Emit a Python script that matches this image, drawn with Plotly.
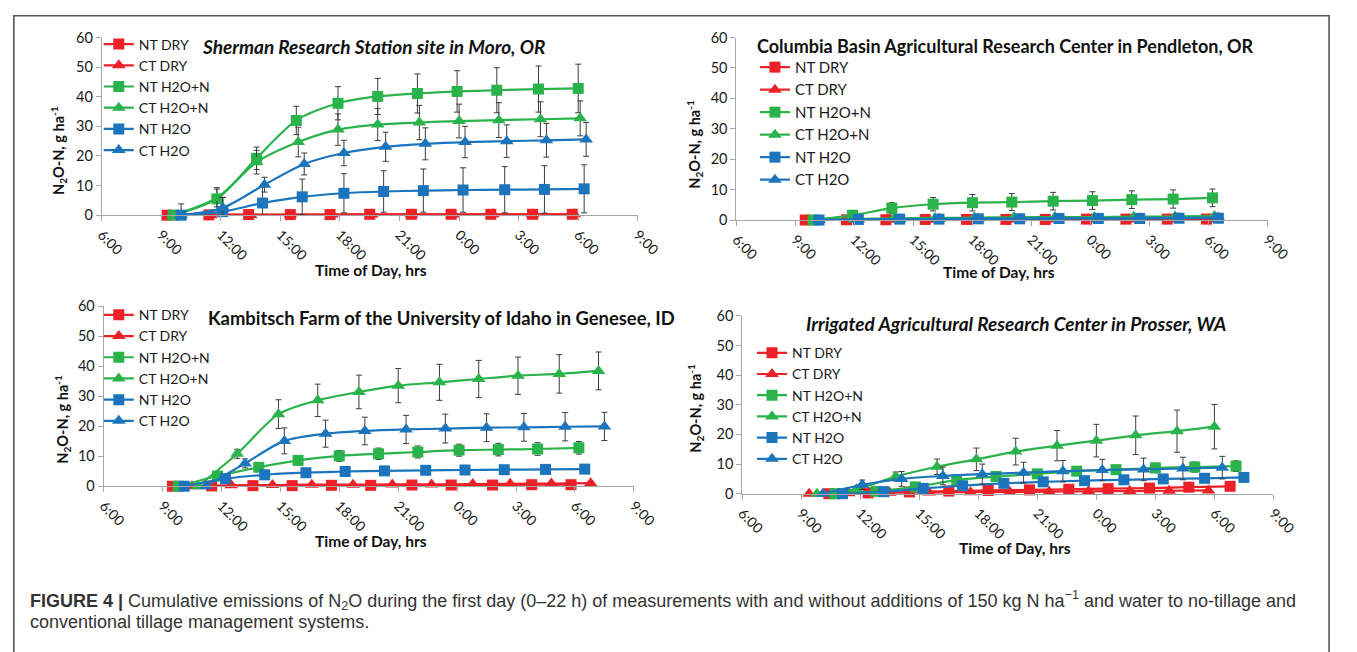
import plotly.graph_objects as go

W, H = 1357, 652

# ---------------- data ----------------
SERIES = ["NT DRY", "CT DRY", "NT H2O+N", "CT H2O+N", "NT H2O", "CT H2O"]

TICK_HOURS = [6, 9, 12, 15, 18, 21, 24, 27, 30, 33]
TICK_LABELS = ["6:00", "9:00", "12:00", "15:00", "18:00", "21:00", "0:00", "3:00", "6:00", "9:00"]
Y_TICKS = [0, 10, 20, 30, 40, 50, 60]

# Sherman Research Station site in Moro, OR  (hours since 0:00 of day 1)
MORO_T_NT_DRY = [9.3, 11.4, 13.4, 15.5, 17.5, 19.5, 21.6, 23.6, 25.6, 27.7, 29.7]
MORO_NT_DRY = [0, 0.1, 0.2, 0.2, 0.2, 0.3, 0.3, 0.3, 0.3, 0.3, 0.3]
MORO_T_CT_DRY = [9.4, 11.5, 13.5, 15.5, 17.6, 19.6, 21.6, 23.7, 25.7, 27.7, 29.8]
MORO_CT_DRY = [0, 0.1, 0.1, 0.2, 0.2, 0.2, 0.2, 0.2, 0.3, 0.3, 0.3]
MORO_T_NT_H2ON = [9.6, 11.8, 13.8, 15.8, 17.9, 19.9, 21.9, 23.9, 25.9, 28.0, 30.0]
MORO_NT_H2ON = [0, 5.5, 19.2, 32.0, 37.8, 40.1, 41.1, 41.8, 42.2, 42.6, 42.8]
MORO_NT_H2ON_ERR = [0, 3.8, 3.8, 4.8, 5.6, 6.1, 6.6, 7.0, 7.6, 7.8, 8.2]
MORO_T_CT_H2ON = [9.6, 11.8, 13.8, 15.9, 17.9, 19.9, 22.0, 24.0, 26.0, 28.1, 30.1]
MORO_CT_H2ON = [0, 5.8, 17.9, 24.7, 28.9, 30.6, 31.3, 31.8, 32.1, 32.4, 32.7]
MORO_CT_H2ON_ERR = [0, 3.0, 4.0, 5.0, 5.3, 5.4, 5.8, 5.7, 5.9, 5.9, 5.9]
MORO_T_NT_H2O = [10.0, 12.1, 14.1, 16.1, 18.2, 20.2, 22.2, 24.2, 26.3, 28.3, 30.3]
MORO_NT_H2O = [0, 1.2, 4.1, 6.2, 7.4, 8.0, 8.3, 8.5, 8.6, 8.7, 8.9]
MORO_NT_H2O_ERR = [3.8, 4.8, 5.5, 6.0, 6.6, 7.0, 7.3, 7.5, 7.8, 8.0, 8.1]
MORO_T_CT_H2O = [10.0, 12.1, 14.2, 16.2, 18.2, 20.3, 22.3, 24.3, 26.4, 28.4, 30.4]
MORO_CT_H2O = [0, 2.5, 10.3, 17.3, 21.0, 23.1, 24.1, 24.7, 25.0, 25.3, 25.6]
MORO_CT_H2O_ERR = [0, 3.5, 2.5, 3.7, 4.3, 4.9, 5.4, 5.3, 5.5, 5.7, 5.7]

# Columbia Basin Agricultural Research Center in Pendleton, OR
PEND_T_NT_DRY = [9.5, 11.6, 13.6, 15.6, 17.7, 19.7, 21.7, 23.8, 25.8, 27.9, 29.9]
PEND_NT_DRY = [0, 0.1, 0.1, 0.2, 0.2, 0.2, 0.2, 0.3, 0.3, 0.3, 0.3]
PEND_T_CT_DRY = [9.6, 11.7, 13.7, 15.7, 17.8, 19.8, 21.8, 23.9, 25.9, 28.0, 30.0]
PEND_CT_DRY = [0, 0.1, 0.1, 0.1, 0.2, 0.2, 0.2, 0.2, 0.2, 0.3, 0.3]
PEND_T_NT_H2ON = [9.9, 11.9, 13.9, 16.0, 18.0, 20.0, 22.1, 24.1, 26.1, 28.2, 30.2]
PEND_NT_H2ON = [0, 1.6, 3.9, 5.2, 5.7, 5.9, 6.2, 6.4, 6.7, 6.9, 7.3]
PEND_NT_H2ON_ERR = [0, 0.5, 1.8, 2.2, 2.7, 2.8, 2.9, 2.9, 2.9, 3.0, 2.9]
PEND_T_CT_H2ON = [10.0, 12.0, 14.0, 16.1, 18.1, 20.1, 22.2, 24.2, 26.2, 28.3, 30.3]
PEND_CT_H2ON = [0, 0.3, 0.6, 0.7, 0.8, 0.9, 1.0, 1.0, 1.1, 1.2, 1.3]
PEND_T_NT_H2O = [10.2, 12.2, 14.3, 16.3, 18.3, 20.4, 22.4, 24.4, 26.5, 28.5, 30.5]
PEND_NT_H2O = [0, 0.2, 0.3, 0.3, 0.4, 0.4, 0.5, 0.5, 0.5, 0.6, 0.6]
PEND_T_CT_H2O = [10.2, 12.2, 14.3, 16.3, 18.3, 20.4, 22.4, 24.4, 26.5, 28.5, 30.5]
PEND_CT_H2O = [0, 0.2, 0.3, 0.4, 0.5, 0.5, 0.6, 0.6, 0.7, 0.7, 0.8]

# Kambitsch Farm of the University of Idaho in Genesee, ID
GEN_T_NT_DRY = [9.5, 11.5, 13.6, 15.6, 17.6, 19.6, 21.7, 23.7, 25.8, 27.8, 29.8]
GEN_NT_DRY = [0, 0.1, 0.2, 0.2, 0.3, 0.3, 0.4, 0.4, 0.4, 0.5, 0.5]
GEN_T_CT_DRY = [10.5, 12.5, 14.6, 16.6, 18.7, 20.7, 22.7, 24.8, 26.7, 28.8, 30.8]
GEN_CT_DRY = [0, 0.3, 0.4, 0.5, 0.5, 0.6, 0.6, 0.7, 0.8, 0.9, 1.0]
GEN_T_NT_H2ON = [9.8, 11.8, 13.9, 15.9, 18.0, 20.0, 22.0, 24.1, 26.1, 28.1, 30.2]
GEN_NT_H2ON = [0, 3.4, 6.3, 8.6, 10.1, 10.8, 11.4, 12.0, 12.2, 12.4, 12.8]
GEN_NT_H2ON_ERR = [0, 0.5, 1.2, 1.5, 1.8, 1.9, 2.0, 2.0, 2.1, 2.1, 2.1]
GEN_T_CT_H2ON = [10.8, 12.8, 14.9, 16.9, 19.0, 21.0, 23.1, 25.1, 27.1, 29.2, 31.2]
GEN_CT_H2ON = [0, 10.8, 24.0, 28.6, 31.4, 33.5, 34.6, 35.7, 36.8, 37.4, 38.4]
GEN_CT_H2ON_ERR = [0, 1.5, 4.8, 5.4, 5.6, 5.7, 6.0, 6.2, 6.2, 6.4, 6.3]
GEN_T_NT_H2O = [10.1, 12.2, 14.2, 16.3, 18.3, 20.3, 22.4, 24.4, 26.4, 28.5, 30.5]
GEN_NT_H2O = [0, 2.5, 3.8, 4.5, 4.9, 5.1, 5.3, 5.4, 5.5, 5.6, 5.7]
GEN_NT_H2O_ERR = [0, 0.3, 0.4, 0.4, 0.5, 0.5, 0.5, 0.5, 0.5, 0.5, 0.5]
GEN_T_CT_H2O = [11.2, 13.2, 15.2, 17.3, 19.3, 21.4, 23.4, 25.5, 27.4, 29.5, 31.5]
GEN_CT_H2O = [0, 7.6, 15.1, 17.5, 18.4, 18.9, 19.2, 19.5, 19.6, 19.8, 19.9]
GEN_CT_H2O_ERR = [0, 1.5, 4.3, 4.5, 4.6, 4.7, 4.8, 4.6, 4.6, 4.7, 4.7]

# Irrigated Agricultural Research Center in Prosser, WA
PROS_T_NT_DRY = [10.4, 12.4, 14.5, 16.5, 18.5, 20.6, 22.6, 24.6, 26.7, 28.7, 30.8]
PROS_NT_DRY = [0, 0.3, 0.6, 0.9, 1.1, 1.3, 1.5, 1.7, 1.9, 2.2, 2.5]
PROS_T_CT_DRY = [9.4, 11.4, 13.5, 15.5, 17.6, 19.6, 21.6, 23.6, 25.7, 27.7, 29.7]
PROS_CT_DRY = [0, 0.2, 0.3, 0.4, 0.5, 0.6, 0.7, 0.8, 0.9, 1.0, 1.1]
PROS_T_NT_H2ON = [10.7, 12.8, 14.8, 16.9, 18.9, 21.0, 23.0, 25.0, 27.0, 29.0, 31.1]
PROS_NT_H2ON = [0, 0.8, 2.3, 4.6, 5.8, 6.7, 7.6, 8.1, 8.7, 9.0, 9.3]
PROS_NT_H2ON_ERR = [0, 0.3, 0.5, 0.8, 1.0, 1.2, 1.4, 1.5, 1.6, 1.7, 1.8]
PROS_T_CT_H2ON = [9.8, 11.8, 13.8, 15.9, 17.9, 19.9, 22.0, 24.0, 26.0, 28.1, 30.0]
PROS_CT_H2ON = [0, 1.5, 5.8, 9.1, 11.6, 14.2, 16.2, 17.9, 19.7, 21.1, 22.6]
PROS_CT_H2ON_ERR = [0, 0.5, 1.5, 2.6, 3.8, 4.5, 5.1, 5.5, 6.5, 7.1, 7.5]
PROS_T_NT_H2O = [11.1, 13.2, 15.2, 17.2, 19.3, 21.3, 23.4, 25.4, 27.4, 29.5, 31.5]
PROS_NT_H2O = [0, 0.7, 1.8, 2.7, 3.5, 4.0, 4.4, 4.7, 5.0, 5.2, 5.5]
PROS_NT_H2O_ERR = [0.2, 0.4, 0.6, 0.8, 0.9, 1.0, 1.0, 1.1, 1.1, 1.2, 1.2]
PROS_T_CT_H2O = [10.1, 12.1, 14.1, 16.2, 18.2, 20.3, 22.3, 24.3, 26.4, 28.4, 30.4]
PROS_CT_H2O = [0, 3.0, 5.0, 6.0, 6.6, 7.1, 7.6, 8.0, 8.2, 8.5, 8.8]
PROS_CT_H2O_ERR = [0, 1.6, 2.5, 3.0, 3.4, 3.5, 3.6, 3.6, 3.8, 3.8, 3.8]

PANEL_TITLES = [
    "<b><i>Sherman Research Station site in Moro, OR</i></b>",
    "<b>Columbia Basin Agricultural Research Center in Pendleton, OR</b>",
    "<b>Kambitsch Farm of the University of Idaho in Genesee, ID</b>",
    "<b><i>Irrigated Agricultural Research Center in Prosser, WA</i></b>",
]

PANEL_DATA = [
    [(MORO_T_NT_DRY, MORO_NT_DRY, None), (MORO_T_CT_DRY, MORO_CT_DRY, None),
     (MORO_T_NT_H2ON, MORO_NT_H2ON, MORO_NT_H2ON_ERR), (MORO_T_CT_H2ON, MORO_CT_H2ON, MORO_CT_H2ON_ERR),
     (MORO_T_NT_H2O, MORO_NT_H2O, MORO_NT_H2O_ERR), (MORO_T_CT_H2O, MORO_CT_H2O, MORO_CT_H2O_ERR)],
    [(PEND_T_NT_DRY, PEND_NT_DRY, None), (PEND_T_CT_DRY, PEND_CT_DRY, None),
     (PEND_T_NT_H2ON, PEND_NT_H2ON, PEND_NT_H2ON_ERR), (PEND_T_CT_H2ON, PEND_CT_H2ON, None),
     (PEND_T_NT_H2O, PEND_NT_H2O, None), (PEND_T_CT_H2O, PEND_CT_H2O, None)],
    [(GEN_T_NT_DRY, GEN_NT_DRY, None), (GEN_T_CT_DRY, GEN_CT_DRY, None),
     (GEN_T_NT_H2ON, GEN_NT_H2ON, GEN_NT_H2ON_ERR), (GEN_T_CT_H2ON, GEN_CT_H2ON, GEN_CT_H2ON_ERR),
     (GEN_T_NT_H2O, GEN_NT_H2O, GEN_NT_H2O_ERR), (GEN_T_CT_H2O, GEN_CT_H2O, GEN_CT_H2O_ERR)],
    [(PROS_T_NT_DRY, PROS_NT_DRY, None), (PROS_T_CT_DRY, PROS_CT_DRY, None),
     (PROS_T_NT_H2ON, PROS_NT_H2ON, PROS_NT_H2ON_ERR), (PROS_T_CT_H2ON, PROS_CT_H2ON, PROS_CT_H2ON_ERR),
     (PROS_T_NT_H2O, PROS_NT_H2O, PROS_NT_H2O_ERR), (PROS_T_CT_H2O, PROS_CT_H2O, PROS_CT_H2O_ERR)],
]

# ---------------- style / layout ----------------
RED, GREEN, BLUE = "#EC2027", "#2BB34B", "#1C75BC"
COLORS = [RED, RED, GREEN, GREEN, BLUE, BLUE]
SYMBOLS = ["square", "triangle-up"] * 3
SIZES = [11, 12, 11, 12, 11, 12]
FONT = "Lato, Liberation Sans, Arial, sans-serif"
AXC = "#a6a6a6"

# plot-area pixel boxes: (left, right, top(=60), bottom(=0))
BOXES = [(97, 646, 29.3, 211.7), (747, 1291, 29.3, 216.7),
         (99, 642, 305, 490), (753, 1297, 315, 497.7)]
# title centre (x, y, size), legend (left, top, font size), y-title (x, y), x-title (x, y)
TITLE_POS = [(375, 38, 19), (1023, 38, 18), (445, 317, 18.4), (1033, 323, 19)]
LEGEND_POS = [(94, 20, 14), (766, 43, 15), (94, 298, 14), (763, 337, 14)]
YTITLE_POS = [(52, 145), (704, 139), (56, 421), (705, 410)]
XTITLE_POS = [(373, 268), (1016, 270), (373, 546), (1032, 553)]


def fx(px):
    return px / W


def fy(py):
    return 1 - py / H


fig = go.Figure()
annotations = []
for p in range(4):
    sfx = "" if p == 0 else str(p + 1)
    leg = "legend" if p == 0 else "legend" + str(p + 1)
    for j, (t, v, e) in enumerate(PANEL_DATA[p]):
        kw = {}
        if e is not None:
            kw["error_y"] = dict(type="data", array=e, visible=True, color="#3c3c3c",
                                 thickness=1, width=3)
        fig.add_trace(go.Scatter(
            x=t, y=v, name=SERIES[j], mode="lines+markers",
            line=dict(color=COLORS[j], width=2.2, shape="spline", smoothing=0.8),
            marker=dict(symbol=SYMBOLS[j], size=SIZES[j], color=COLORS[j],
                        line=dict(width=0)),
            xaxis="x" + sfx, yaxis="y" + sfx, legend=leg, cliponaxis=False,
            showlegend=True, **kw))

    l, r, top, bot = BOXES[p]
    fig.layout["xaxis" + sfx] = dict(
        domain=[fx(l), fx(r)], range=[6, 33], anchor="y" + sfx,
        tickmode="array", tickvals=TICK_HOURS, ticktext=TICK_LABELS, tickangle=45,
        showline=True, linecolor=AXC, linewidth=1, ticks="outside", ticklen=5,
        tickcolor=AXC, showgrid=False, zeroline=False,
        tickfont=dict(family=FONT, size=14, color="#1a1a1a"))
    fig.layout["yaxis" + sfx] = dict(
        domain=[fy(bot), fy(top)], range=[0, 60], anchor="x" + sfx,
        tickmode="array", tickvals=Y_TICKS,
        showline=True, linecolor=AXC, linewidth=1, ticks="outside", ticklen=5,
        tickcolor=AXC, showgrid=False, zeroline=False,
        tickfont=dict(family=FONT, size=14.5, color="#1a1a1a"))

    lx, ly, lfs = LEGEND_POS[p]
    fig.layout[leg] = dict(
        x=fx(lx), y=fy(ly), xanchor="left", yanchor="top", xref="paper", yref="paper",
        bgcolor="rgba(0,0,0,0)", borderwidth=0, tracegroupgap=0, itemwidth=30,
        font=dict(family=FONT, size=lfs, color="#1a1a1a"), traceorder="normal")

    tx, ty, tfs = TITLE_POS[p]
    annotations.append(dict(text=PANEL_TITLES[p], x=fx(tx), y=fy(ty), xref="paper", yref="paper",
                            showarrow=False, xanchor="center", yanchor="middle",
                            font=dict(family=FONT, size=tfs, color="#111")))
    yx, yy = YTITLE_POS[p]
    annotations.append(dict(text="<b>N<sub>2</sub>O-N, g ha<sup>-1</sup></b>", x=fx(yx), y=fy(yy),
                            xref="paper", yref="paper", showarrow=False, textangle=-90,
                            xanchor="center", yanchor="middle",
                            font=dict(family=FONT, size=14.5, color="#111")))
    xx, xy = XTITLE_POS[p]
    annotations.append(dict(text="<b>Time of Day, hrs</b>", x=fx(xx), y=fy(xy),
                            xref="paper", yref="paper", showarrow=False,
                            xanchor="center", yanchor="middle",
                            font=dict(family=FONT, size=15.5, color="#111")))

CAP_FONT = "Liberation Sans, Arial, sans-serif"
annotations.append(dict(
    text="<b>FIGURE 4 |</b> Cumulative emissions of N<sub>2</sub>O during the first day (0–22 h) of measurements "
         "with and without additions of 150 kg N ha<sup>−1</sup> and water to no-tillage and",
    x=fx(22), y=fy(607), xref="paper", yref="paper", showarrow=False,
    xanchor="left", yanchor="middle", font=dict(family=CAP_FONT, size=18, color="#333")))
annotations.append(dict(
    text="conventional tillage management systems.",
    x=fx(22), y=fy(629), xref="paper", yref="paper", showarrow=False,
    xanchor="left", yanchor="middle", font=dict(family=CAP_FONT, size=18, color="#333")))

fig.update_layout(
    width=W, height=H, autosize=False,
    margin=dict(l=0, r=0, t=0, b=0),
    paper_bgcolor="white", plot_bgcolor="white",
    annotations=annotations,
    shapes=[dict(type="rect", xref="paper", yref="paper",
                 x0=fx(7), x1=fx(1354), y0=fy(720), y1=fy(7),
                 line=dict(color="#555", width=1.6), layer="below")],
)

fig.write_html("out.html", config={"displayModeBar": False},
               post_script="document.body.style.margin='0';document.body.style.overflow='hidden';")
